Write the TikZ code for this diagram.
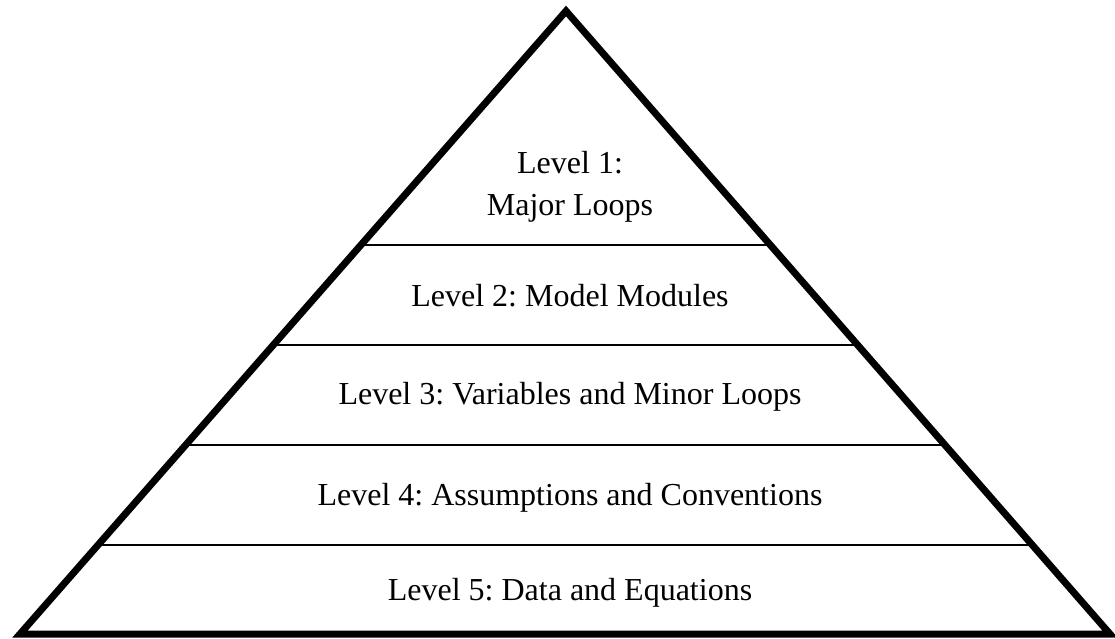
\documentclass[tikz,border=0pt]{standalone}
\usepackage{fontspec}
\setmainfont{Liberation Serif}
\usetikzlibrary{calc}
\frenchspacing
\begin{document}
\begin{tikzpicture}[x=1pt,y=-1pt,
  edge/.style={line width=7pt,line join=miter,miter limit=10},
  tier/.style={line width=1.5pt},
  label/.style={font=\fontsize{32}{42}\selectfont\frenchspacing,inner sep=0pt,anchor=base,align=center}]
\useasboundingbox (0,0) rectangle (1115,638);
\coordinate (apex) at (566,11);
\coordinate (bl) at (20,634);
\coordinate (br) at (1110,634);
\foreach \t/\n in {0.3756/a,0.5361/b,0.6966/c,0.8571/d}{
  \coordinate (l\n) at ($(apex)!\t!(bl)$);
  \coordinate (r\n) at ($(apex)!\t!(br)$);
  \draw[tier] (l\n) -- (r\n);
}
\draw[edge] (apex) -- (br) -- (bl) -- cycle;
\node[label] (t1) at (570,215) {Level 1:\\Major Loops};
\node[label] (t2) at (570,306) {Level 2: Model Modules};
\node[label] (t3) at (570,404) {Level 3: Variables and Minor Loops};
\node[label] (t4) at (570,505) {Level 4: Assumptions and Conventions};
\node[label] (t5) at (570,600) {Level 5: Data and Equations};
\end{tikzpicture}
\end{document}
